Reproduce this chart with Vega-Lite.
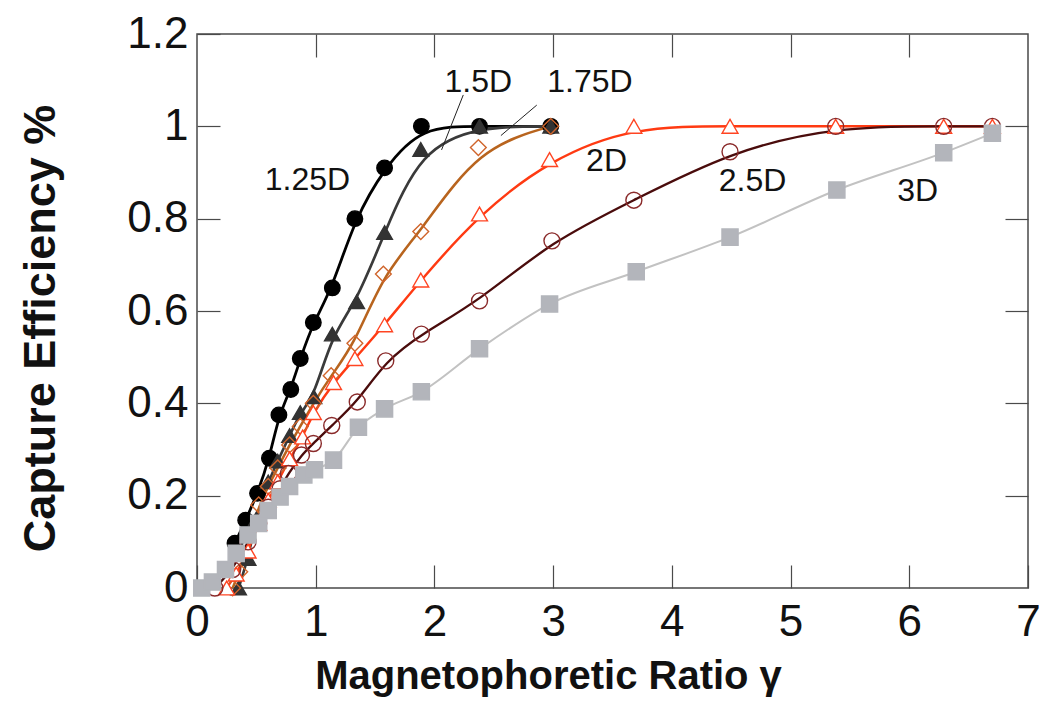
{
  "$schema": "https://vega.github.io/schema/vega-lite/v6.json",
  "width": 831,
  "height": 554,
  "autosize": "none",
  "padding": {"left": 197, "top": 34, "right": 14, "bottom": 135},
  "background": "white",
  "config": {
    "font": "Liberation Sans",
    "view": {"stroke": "#4a4a4a", "strokeWidth": 1.5},
    "axis": {"grid": false, "domain": false, "tickColor": "#4a4a4a", "tickWidth": 1.2, "labelColor": "#111", "titleColor": "#111", "labelFont": "Liberation Sans", "titleFont": "Liberation Sans", "labelFlush": false}
  },
  "datasets": {
    "pts": [
      {"s": "1.25D", "g": 0.32, "e": 0.097}, {"s": "1.25D", "g": 0.41, "e": 0.147}, {"s": "1.25D", "g": 0.51, "e": 0.205}, {"s": "1.25D", "g": 0.61, "e": 0.281}, {"s": "1.25D", "g": 0.69, "e": 0.375}, {"s": "1.25D", "g": 0.79, "e": 0.43}, {"s": "1.25D", "g": 0.87, "e": 0.497}, {"s": "1.25D", "g": 0.98, "e": 0.575}, {"s": "1.25D", "g": 1.14, "e": 0.65}, {"s": "1.25D", "g": 1.33, "e": 0.8}, {"s": "1.25D", "g": 1.58, "e": 0.91}, {"s": "1.25D", "g": 1.89, "e": 1.0}, {"s": "1.25D", "g": 2.38, "e": 1.0}, {"s": "1.25D", "g": 2.98, "e": 1.0},
      {"s": "1.5D", "g": 0.35, "e": 0.0}, {"s": "1.5D", "g": 0.43, "e": 0.064}, {"s": "1.5D", "g": 0.5, "e": 0.15}, {"s": "1.5D", "g": 0.6, "e": 0.23}, {"s": "1.5D", "g": 0.68, "e": 0.275}, {"s": "1.5D", "g": 0.78, "e": 0.33}, {"s": "1.5D", "g": 0.87, "e": 0.38}, {"s": "1.5D", "g": 0.985, "e": 0.414}, {"s": "1.5D", "g": 1.14, "e": 0.55}, {"s": "1.5D", "g": 1.345, "e": 0.62}, {"s": "1.5D", "g": 1.58, "e": 0.77}, {"s": "1.5D", "g": 1.885, "e": 0.95}, {"s": "1.5D", "g": 2.38, "e": 1.0}, {"s": "1.5D", "g": 2.98, "e": 1.0},
      {"s": "1.75D", "g": 0.3, "e": 0.0}, {"s": "1.75D", "g": 0.36, "e": 0.035}, {"s": "1.75D", "g": 0.52, "e": 0.18}, {"s": "1.75D", "g": 0.6, "e": 0.22}, {"s": "1.75D", "g": 0.68, "e": 0.26}, {"s": "1.75D", "g": 0.78, "e": 0.31}, {"s": "1.75D", "g": 0.87, "e": 0.35}, {"s": "1.75D", "g": 0.98, "e": 0.4}, {"s": "1.75D", "g": 1.13, "e": 0.46}, {"s": "1.75D", "g": 1.33, "e": 0.53}, {"s": "1.75D", "g": 1.57, "e": 0.68}, {"s": "1.75D", "g": 1.885, "e": 0.772}, {"s": "1.75D", "g": 2.37, "e": 0.954}, {"s": "1.75D", "g": 2.98, "e": 1.0},
      {"s": "2D", "g": 0.25, "e": 0.0}, {"s": "2D", "g": 0.33, "e": 0.03}, {"s": "2D", "g": 0.43, "e": 0.08}, {"s": "2D", "g": 0.52, "e": 0.14}, {"s": "2D", "g": 0.6, "e": 0.19}, {"s": "2D", "g": 0.68, "e": 0.23}, {"s": "2D", "g": 0.78, "e": 0.28}, {"s": "2D", "g": 0.89, "e": 0.327}, {"s": "2D", "g": 0.98, "e": 0.38}, {"s": "2D", "g": 1.15, "e": 0.445}, {"s": "2D", "g": 1.33, "e": 0.497}, {"s": "2D", "g": 1.58, "e": 0.57}, {"s": "2D", "g": 1.885, "e": 0.667}, {"s": "2D", "g": 2.38, "e": 0.81}, {"s": "2D", "g": 2.97, "e": 0.928}, {"s": "2D", "g": 3.68, "e": 1.0}, {"s": "2D", "g": 4.49, "e": 1.0}, {"s": "2D", "g": 5.38, "e": 1.0}, {"s": "2D", "g": 6.29, "e": 1.0}, {"s": "2D", "g": 6.7, "e": 1.0},
      {"s": "2.5D", "g": 0.15, "e": 0.0}, {"s": "2.5D", "g": 0.3, "e": 0.04}, {"s": "2.5D", "g": 0.43, "e": 0.1}, {"s": "2.5D", "g": 0.52, "e": 0.14}, {"s": "2.5D", "g": 0.6, "e": 0.175}, {"s": "2.5D", "g": 0.7, "e": 0.215}, {"s": "2.5D", "g": 0.77, "e": 0.248}, {"s": "2.5D", "g": 0.88, "e": 0.288}, {"s": "2.5D", "g": 0.98, "e": 0.313}, {"s": "2.5D", "g": 1.135, "e": 0.352}, {"s": "2.5D", "g": 1.35, "e": 0.403}, {"s": "2.5D", "g": 1.59, "e": 0.492}, {"s": "2.5D", "g": 1.89, "e": 0.55}, {"s": "2.5D", "g": 2.38, "e": 0.622}, {"s": "2.5D", "g": 2.99, "e": 0.752}, {"s": "2.5D", "g": 3.68, "e": 0.84}, {"s": "2.5D", "g": 4.49, "e": 0.945}, {"s": "2.5D", "g": 5.38, "e": 1.0}, {"s": "2.5D", "g": 6.29, "e": 1.0}, {"s": "2.5D", "g": 6.7, "e": 1.0},
      {"s": "3D", "g": 0.04, "e": 0.0}, {"s": "3D", "g": 0.13, "e": 0.013}, {"s": "3D", "g": 0.24, "e": 0.04}, {"s": "3D", "g": 0.33, "e": 0.075}, {"s": "3D", "g": 0.43, "e": 0.115}, {"s": "3D", "g": 0.52, "e": 0.14}, {"s": "3D", "g": 0.6, "e": 0.168}, {"s": "3D", "g": 0.7, "e": 0.197}, {"s": "3D", "g": 0.78, "e": 0.22}, {"s": "3D", "g": 0.9, "e": 0.245}, {"s": "3D", "g": 0.99, "e": 0.256}, {"s": "3D", "g": 1.15, "e": 0.277}, {"s": "3D", "g": 1.36, "e": 0.348}, {"s": "3D", "g": 1.58, "e": 0.388}, {"s": "3D", "g": 1.89, "e": 0.425}, {"s": "3D", "g": 2.38, "e": 0.518}, {"s": "3D", "g": 2.97, "e": 0.615}, {"s": "3D", "g": 3.7, "e": 0.685}, {"s": "3D", "g": 4.49, "e": 0.76}, {"s": "3D", "g": 5.39, "e": 0.862}, {"s": "3D", "g": 6.29, "e": 0.943}, {"s": "3D", "g": 6.7, "e": 0.985}
    ],
    "labels": [
      {"t": "1.25D", "g": 0.93, "e": 0.884},
      {"t": "1.5D", "g": 2.37, "e": 1.096},
      {"t": "1.75D", "g": 3.31, "e": 1.096},
      {"t": "2D", "g": 3.45, "e": 0.925},
      {"t": "2.5D", "g": 4.68, "e": 0.882},
      {"t": "3D", "g": 6.07, "e": 0.86}
    ],
    "leaders": [
      {"g": 2.243, "e": 1.068, "g2": 2.06, "e2": 0.949},
      {"g": 2.862, "e": 1.046, "g2": 2.56, "e2": 0.98}
    ]
  },
  "resolve": {"axis": {"x": "independent", "y": "independent"}},
  "layer": [
    {
      "data": {"name": "pts"},
      "transform": [{"filter": "datum.s != '3D'"}],
      "mark": {"type": "line", "interpolate": "basis"},
      "encoding": {
        "x": {"field": "g", "type": "quantitative", "scale": {"domain": [0, 7], "nice": false},
              "axis": {"orient": "bottom", "values": [0, 1, 2, 3, 4, 5, 6, 7], "tickSize": -23, "labelPadding": 35, "labelFontSize": 44, "format": "d",
                       "title": "Magnetophoretic Ratio γ", "titleFontSize": 40, "titleFontWeight": "bold", "titleX": 351, "titleY": 68, "titleBaseline": "top"}},
        "y": {"field": "e", "type": "quantitative", "scale": {"domain": [0, 1.2], "nice": false},
              "axis": {"orient": "left", "values": [0, 0.2, 0.4, 0.6, 0.8, 1, 1.2], "tickSize": -23, "labelPadding": 32, "labelFontSize": 44, "format": ".1~f",
                       "title": "Capture Efficiency %", "titleFontSize": 45, "titleFontWeight": "bold", "titleX": -157, "titleY": 294, "titleBaseline": "middle", "titleAlign": "center", "titleAngle": 270}},
        "color": {"field": "s", "type": "nominal", "legend": null,
                  "scale": {"domain": ["1.25D", "1.5D", "1.75D", "2D", "2.5D", "3D"], "range": ["#000000", "#3a3a3a", "#b8641e", "#ff3a12", "#4a0c0c", "#c2c2c2"]}},
        "strokeWidth": {"field": "s", "type": "nominal", "legend": null,
                  "scale": {"domain": ["1.25D", "1.5D", "1.75D", "2D", "2.5D", "3D"], "range": [2.8, 2.2, 1.8, 2.6, 3, 2]}}
      }
    },
    {
      "data": {"name": "pts"},
      "transform": [{"filter": "datum.s == '3D'"}],
      "mark": {"type": "line", "interpolate": "monotone", "color": "#c2c2c2", "strokeWidth": 2},
      "encoding": {
        "x": {"field": "g", "type": "quantitative", "axis": null},
        "y": {"field": "e", "type": "quantitative", "axis": null}
      }
    },
    {
      "data": {"name": "pts"},
      "mark": {"type": "point", "filled": true, "opacity": 1, "strokeWidth": 1.4},
      "encoding": {
        "x": {"field": "g", "type": "quantitative", "scale": {"domain": [0, 7], "nice": false},
              "axis": {"orient": "top", "values": [1, 2, 3, 4, 5, 6], "tickSize": -23, "labels": false, "title": null}},
        "y": {"field": "e", "type": "quantitative", "scale": {"domain": [0, 1.2], "nice": false},
              "axis": {"orient": "right", "values": [0.2, 0.4, 0.6, 0.8, 1], "tickSize": -23, "labels": false, "title": null}},
        "shape": {"field": "s", "type": "nominal", "legend": null,
                  "scale": {"domain": ["1.25D", "1.5D", "1.75D", "2D", "2.5D", "3D"], "range": ["circle", "triangle-up", "diamond", "triangle-up", "circle", "square"]}},
        "fill": {"field": "s", "type": "nominal", "legend": null,
                 "scale": {"domain": ["1.25D", "1.5D", "1.75D", "2D", "2.5D", "3D"], "range": ["#000000", "#333333", "transparent", "#ffffff", "transparent", "#b3b5bb"]}},
        "stroke": {"field": "s", "type": "nominal", "legend": null,
                 "scale": {"domain": ["1.25D", "1.5D", "1.75D", "2D", "2.5D", "3D"], "range": ["#000000", "#333333", "#d0652c", "#ff4422", "#8a2a2a", "#b3b5bb"]}},
        "size": {"field": "s", "type": "nominal", "legend": null,
                 "scale": {"domain": ["1.25D", "1.5D", "1.75D", "2D", "2.5D", "3D"], "range": [240, 260, 170, 280, 200, 250]}}
      }
    },
    {
      "data": {"name": "leaders"},
      "mark": {"type": "rule", "color": "#222222", "strokeWidth": 1},
      "encoding": {
        "x": {"field": "g", "type": "quantitative", "axis": null},
        "y": {"field": "e", "type": "quantitative", "axis": null},
        "x2": {"field": "g2"},
        "y2": {"field": "e2"}
      }
    },
    {
      "data": {"name": "labels"},
      "mark": {"type": "text", "fontSize": 32, "align": "center", "baseline": "middle", "color": "#111111", "font": "Liberation Sans"},
      "encoding": {
        "x": {"field": "g", "type": "quantitative", "axis": null},
        "y": {"field": "e", "type": "quantitative", "axis": null},
        "text": {"field": "t"}
      }
    }
  ]
}
